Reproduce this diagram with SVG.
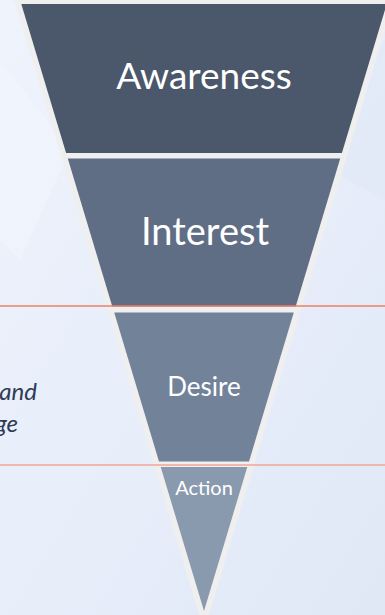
<svg xmlns="http://www.w3.org/2000/svg" width="385" height="615" viewBox="0 0 385 615">
  <defs>
    <linearGradient id="bg" x1="0" y1="0" x2="1" y2="1">
      <stop offset="0" stop-color="#eef3fc"/>
      <stop offset="0.5" stop-color="#e8eefa"/>
      <stop offset="1" stop-color="#e0e8f6"/>
    </linearGradient>
    <style>
      .band-label { font-family: Lato, "Open Sans", "Liberation Sans", sans-serif; fill: #ffffff; text-anchor: middle; }
      .side { font-family: Lato, "Open Sans", "Liberation Sans", sans-serif; font-style: italic; font-size: 24px; fill: #2f3a56; text-anchor: end; }
      .rule { stroke-width: 1.5; fill: none; }
    </style>
  </defs>

  <!-- backdrop -->
  <rect x="0" y="0" width="385" height="615" fill="url(#bg)"/>
  <polygon points="0,60 70,150 20,260 0,240" fill="#f2f6fd" opacity="0.6"/>
  <polygon points="300,80 385,40 385,200 330,170" fill="#dfe7f5" opacity="0.5"/>

  <!-- funnel backing (shows as light border and gaps) -->
  <polygon id="funnel-frame" points="14.1,0 393.9,0 204,631" fill="#efefef"/>

  <g id="awareness">
    <polygon points="21.3,4 386.7,4 341.9,153 66.1,153" fill="#4b576a"/>
    <text class="band-label" x="204" y="89" font-size="37">Awareness</text>
  </g>

  <g id="interest">
    <polygon points="67.8,158.5 340.2,158.5 295.7,306.5 112.3,306.5" fill="#5f6e85"/>
    <text class="band-label" x="205" y="245" font-size="38">Interest</text>
  </g>

  <g id="desire">
    <polygon points="114.2,312.5 293.8,312.5 249,461.5 159,461.5" fill="#718299"/>
    <text class="band-label" x="204" y="396" font-size="26">Desire</text>
  </g>

  <g id="action">
    <polygon points="160.7,467 247.3,467 204,611" fill="#8a9aae"/>
    <text class="band-label" x="204" y="495" font-size="20">Action</text>
  </g>

  <!-- horizontal guide rules -->
  <g id="connectors">
    <line class="rule" x1="0" y1="306" x2="385" y2="306" stroke="#ee7f66"/>
    <line class="rule" x1="0" y1="465" x2="385" y2="465" stroke="#f2a494" stroke-width="2"/>
  </g>

  <g id="side-note">
    <text class="side" x="37" y="400">and</text>
    <text class="side" x="18" y="432">ge</text>
  </g>
</svg>
